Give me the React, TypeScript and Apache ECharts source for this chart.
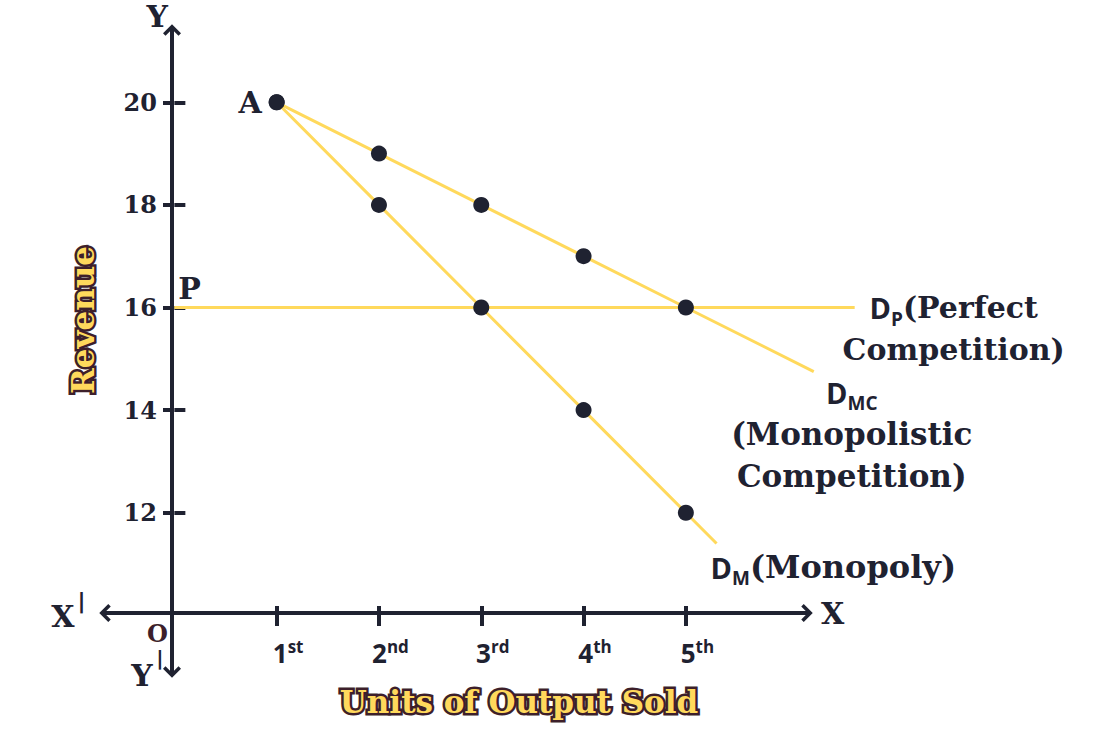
import React, { useEffect, useRef } from "react";
import * as echarts from "echarts";

// ---- data ----
const unitTicks = [1, 2, 3, 4, 5];
const unitNums = ["1", "2", "3", "4", "5"];
const unitSuffix = ["st", "nd", "rd", "th", "th"];
const revenueTicks = [12, 14, 16, 18, 20];

// Perfect competition demand (horizontal)
const dpX = [0, 6.65];
const dpY = [16, 16];
// Monopolistic competition demand
const dmcX = [1, 2, 3, 4, 5, 6.25];
const dmcY = [20, 19, 18, 17, 16, 14.75];
// Monopoly demand
const dmX = [1, 2, 3, 4, 5, 5.3];
const dmY = [20, 18, 16, 14, 12, 11.4];

const DARK = "#1f2231";
const GOLD = "#ffd95c";
const MAROON = "#3d1f2b";
const SERIF = "'DejaVu Serif', Georgia, serif";
const SANS = "'Open Sans', 'Noto Sans', sans-serif";

const CHEVRON = "path://M9,0 L18,9 L15.5,11.5 L9,5 L2.5,11.5 L0,9 Z";

const X_MIN = -0.678;
const X_MAX_FRAME = 6.184;
const Y_MIN = 8.895;
const Y_MAX = 21.409;

const zip = (xs: number[], ys: number[]) => xs.map((x, i) => [x, ys[i]]);

export default function App() {
  const ref = useRef<HTMLDivElement>(null);
  useEffect(() => {
    if (!ref.current) return;
    const chart = echarts.init(ref.current, undefined, { renderer: "svg" });

    const frameLeft = 105;
    const frameRight = 807;
    const dataRight = 875;
    const pxPerUnit = (frameRight - frameLeft) / (X_MAX_FRAME - X_MIN);
    const xMaxData = X_MIN + (dataRight - frameLeft) / pxPerUnit;

    const axisLine = {
      show: true,
      onZero: false,
      symbol: [CHEVRON, CHEVRON],
      symbolSize: [18, 11.5],
      lineStyle: { color: DARK, width: 4 },
    };

    const richD = (lh: number) => ({
      d: { fontFamily: SANS, fontWeight: "bold", fontSize: 29, lineHeight: lh, color: DARK },
      s: { fontFamily: SANS, fontWeight: "bold", fontSize: 19, lineHeight: 30, verticalAlign: "bottom", color: DARK },
    });

    const dpData: any[] = zip(dpX, dpY).map((v, i) => ({
      value: v,
      symbolSize: 0,
      label:
        i === 0
          ? {
              show: true,
              position: [4, -34],
              align: "left",
              verticalAlign: "top",
              formatter: "P",
              fontFamily: SERIF,
              fontWeight: "bold",
              fontSize: 30,
              lineHeight: 30,
              color: DARK,
            }
          : {
              show: true,
              position: [99, -21],
              align: "center",
              verticalAlign: "top",
              formatter: "{d|D}{s|P}{t|(Perfect}\n{t|Competition)}",
              rich: {
                ...richD(42),
                t: { fontFamily: SERIF, fontWeight: "bold", fontSize: 30, lineHeight: 42, color: DARK },
              },
            },
    }));

    const dmcData: any[] = zip(dmcX, dmcY).map((v, i) => {
      const last = i === dmcX.length - 1;
      const item: any = { value: v, symbolSize: last ? 0 : 16 };
      if (i === 0) {
        item.label = {
          show: true,
          position: "left",
          distance: 7,
          formatter: "A",
          fontFamily: SERIF,
          fontWeight: "bold",
          fontSize: 30,
          color: DARK,
        };
      }
      if (last) {
        item.label = {
          show: true,
          position: [38, 1],
          align: "center",
          verticalAlign: "top",
          formatter: "{d|D}{s|MC}\n{t|(Monopolistic}\n{t|Competition)}",
          rich: {
            ...richD(40),
            t: { fontFamily: SERIF, fontWeight: "bold", fontSize: 31, lineHeight: 42, color: DARK },
          },
        };
      }
      return item;
    });

    const dmData: any[] = zip(dmX, dmY).map((v, i) => {
      const last = i === dmX.length - 1;
      const item: any = { value: v, symbolSize: last ? 0 : 16 };
      if (last) {
        item.label = {
          show: true,
          position: [-6, 4],
          align: "left",
          verticalAlign: "top",
          formatter: "{d|D}{s|M}{t|(Monopoly)}",
          rich: {
            ...richD(40),
            t: { fontFamily: SERIF, fontWeight: "bold", fontSize: 32, lineHeight: 40, color: DARK },
          },
        };
      }
      return item;
    });

    const titleStyle = {
      fontFamily: SERIF,
      fontWeight: "bold",
      fontSize: 31,
      fill: GOLD,
      stroke: MAROON,
      lineWidth: 5,
      shadowColor: "rgba(61,31,43,0.8)",
      shadowBlur: 5,
    };

    const lineSeries = (name: string, data: any[], z: number) => ({
      name,
      type: "line",
      xAxisIndex: 0,
      yAxisIndex: 0,
      clip: false,
      data,
      showSymbol: true,
      symbol: "circle",
      itemStyle: { color: DARK },
      lineStyle: { color: GOLD, width: 3 },
      z,
    });

    chart.setOption({
      animation: false,
      backgroundColor: "#ffffff",
      grid: [
        // data grid (wider, so the curves may run past the arrow)
        { left: frameLeft, width: dataRight - frameLeft, top: 30, bottom: 61 },
        // axis frame grid
        { left: frameLeft, width: frameRight - frameLeft, top: 30, bottom: 61 },
      ],
      xAxis: [
        {
          gridIndex: 0,
          type: "value",
          min: X_MIN,
          max: xMaxData,
          show: false,
        },
        {
          gridIndex: 1,
          type: "value",
          min: X_MIN,
          max: X_MAX_FRAME,
          position: "bottom",
          offset: -59,
          axisLine,
          splitLine: { show: false },
          axisTick: { show: true, customValues: unitTicks, length: 13, lineStyle: { color: DARK, width: 4 } },
          axisLabel: {
            show: true,
            customValues: unitTicks,
            margin: 25,
            padding: [0, 0, 0, 23],
            formatter: (v: number) => {
              const i = unitTicks.indexOf(Math.round(v));
              return `{n|${unitNums[i]}}{s|${unitSuffix[i]}}`;
            },
            rich: {
              n: { fontFamily: SANS, fontWeight: "bold", fontSize: 26, lineHeight: 30, color: DARK },
              s: { fontFamily: SANS, fontWeight: "bold", fontSize: 17, lineHeight: 18, verticalAlign: "top", color: DARK },
            },
          },
          name: "X",
          nameLocation: "end",
          nameGap: 14,
          nameTextStyle: { fontFamily: SERIF, fontWeight: "bold", fontSize: 30, color: DARK, verticalAlign: "middle" },
        },
        {
          gridIndex: 1,
          type: "value",
          min: X_MIN,
          max: X_MAX_FRAME,
          position: "bottom",
          offset: -59,
          axisLine: { show: false },
          splitLine: { show: false },
          axisTick: { show: true, inside: true, customValues: unitTicks, length: 7, lineStyle: { color: DARK, width: 4 } },
          axisLabel: { show: false },
        },
      ],
      yAxis: [
        {
          gridIndex: 0,
          type: "value",
          min: Y_MIN,
          max: Y_MAX,
          show: false,
        },
        {
          gridIndex: 1,
          type: "value",
          min: Y_MIN,
          max: Y_MAX,
          position: "left",
          offset: -67,
          axisLine,
          splitLine: { show: false },
          axisTick: { show: true, customValues: revenueTicks, length: 9, lineStyle: { color: DARK, width: 4 } },
          axisLabel: {
            show: true,
            customValues: revenueTicks,
            margin: 15,
            fontFamily: SERIF,
            fontWeight: "bold",
            fontSize: 24,
            color: DARK,
          },
          name: "Y",
          nameLocation: "end",
          nameGap: 2,
          nameTextStyle: {
            fontFamily: SERIF,
            fontWeight: "bold",
            fontSize: 30,
            lineHeight: 24,
            color: DARK,
            align: "right",
            padding: [0, 4, 0, 0],
          },
        },
        {
          gridIndex: 1,
          type: "value",
          min: Y_MIN,
          max: Y_MAX,
          position: "left",
          offset: -67,
          axisLine: { show: false },
          splitLine: { show: false },
          axisTick: { show: true, inside: true, customValues: revenueTicks, length: 11, lineStyle: { color: DARK, width: 4 } },
          axisLabel: { show: false },
        },
      ],
      series: [
        lineSeries("Perfect Competition", dpData, 2),
        lineSeries("Monopolistic Competition", dmcData, 3),
        lineSeries("Monopoly", dmData, 4),
      ],
      graphic: [
        {
          type: "text",
          x: 519,
          y: 702,
          style: { ...titleStyle, text: "Units of Output Sold", align: "center", verticalAlign: "middle" },
          z: 10,
        },
        {
          type: "text",
          x: 83,
          y: 320,
          rotation: Math.PI / 2,
          style: { ...titleStyle, text: "Revenue", align: "center", verticalAlign: "middle" },
          z: 10,
        },
        {
          type: "text",
          x: 63,
          y: 616,
          style: { text: "X", fontFamily: SERIF, fontWeight: "bold", fontSize: 30, lineHeight: 26, fill: DARK, align: "center", verticalAlign: "middle" },
        },
        {
          type: "text",
          x: 81.5,
          y: 600,
          style: { text: "|", fontFamily: "'DejaVu Sans', sans-serif", fontWeight: "bold", fontSize: 22, lineHeight: 22, fill: DARK, align: "center", verticalAlign: "middle" },
        },
        {
          type: "text",
          x: 142,
          y: 675,
          style: { text: "Y", fontFamily: SERIF, fontWeight: "bold", fontSize: 30, lineHeight: 26, fill: DARK, align: "center", verticalAlign: "middle" },
        },
        {
          type: "text",
          x: 160,
          y: 658,
          style: { text: "|", fontFamily: "'DejaVu Sans', sans-serif", fontWeight: "bold", fontSize: 20, lineHeight: 18, fill: DARK, align: "center", verticalAlign: "middle" },
        },
        {
          type: "text",
          x: 157.5,
          y: 633,
          style: { text: "O", fontFamily: SERIF, fontWeight: "bold", fontSize: 24, lineHeight: 20, fill: MAROON, align: "center", verticalAlign: "middle" },
        },
      ],
    });
    return () => chart.dispose();
  }, []);

  return (
    <div
      ref={ref}
      style={{ position: "fixed", left: 0, top: 0, width: 1095, height: 733, background: "#fff" }}
    />
  );
}
